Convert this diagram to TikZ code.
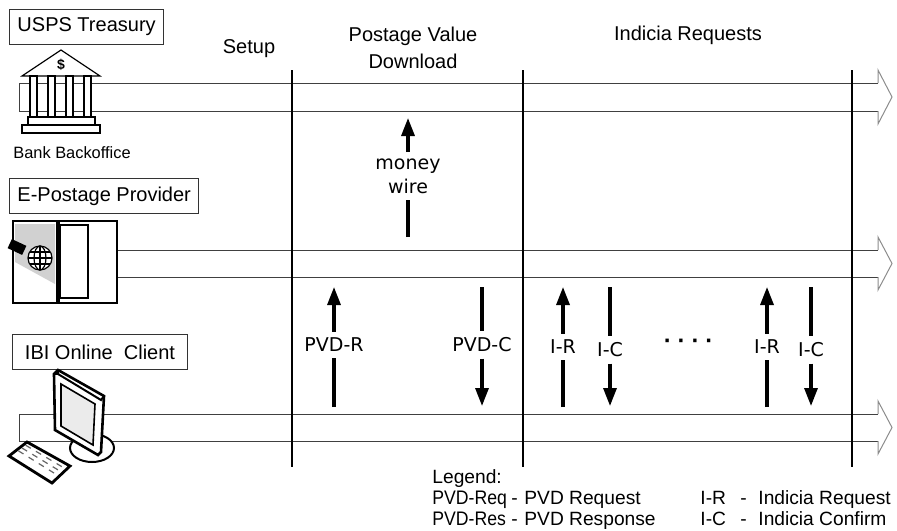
\documentclass[tikz,border=0pt]{standalone}
\usepackage{fontspec}
\setmainfont{Liberation Sans}
\newfontfamily\msgfont{DejaVu Sans}
\newfontfamily\narrowfont[FakeStretch=0.9]{Liberation Sans}
\usetikzlibrary{arrows.meta}

\begin{document}
\begin{tikzpicture}[x=0.5pt,y=-0.5pt,
  actor/.style={draw=black!80,line width=0.5pt,anchor=north west,
    minimum height=17.5pt,inner xsep=4pt,font=\fontsize{10}{12}\selectfont},
  phase/.style={font=\fontsize{10}{13.5}\selectfont,align=center},
  laneline/.style={draw=black!75,line width=0.5pt},
  lanehead/.style={draw=black!45,line width=0.5pt},
  sep/.style={line width=0.9pt},
  msg/.style={font=\msgfont\fontsize{9.5}{12}\selectfont,inner sep=3pt},
  flow/.style={line width=1.6pt},
  tip/.style={-{Triangle[length=9pt,width=6.5pt]}},
  icon/.style={line width=0.6pt},
  legend/.style={anchor=base west,inner sep=0pt,font=\fontsize{9.6}{12}\selectfont}]
  \useasboundingbox (0,0) rectangle (897,530);

  % Draw the three lanes as open arrows
  \foreach \ya/\yb in {83/111, 250/277, 414/441} {
    \draw[laneline] (19,\ya) -- (878,\ya);
    \draw[laneline] (19,\yb) -- (878,\yb);
    \draw[laneline] (19,\ya) -- (19,\yb);
    \draw[lanehead] (878,\ya) -- (878,\ya-13) -- ({892},{(\ya+\yb)/2})
      -- (878,\yb+13) -- (878,\yb);
  }

  % Phase separators
  \foreach \x in {292,523,852} {
    \draw[sep] (\x,70) -- (\x,467);
  }

  % Phase titles
  \node[phase] (setup) at (249,49) {Setup};
  \node[phase] (pvd) at (413,48) {Postage Value\\Download};
  \node[phase] (indicia) at (688,35) {Indicia Requests};

  % Actor boxes
  \node[actor] (usps) at (9,9) {USPS Treasury};
  \node[actor] (epp) at (9,178) {E-Postage Provider};
  \node[actor,minimum width=87.5pt] (ibi) at (12,334) {IBI Online\ \ Client};
  \node[font=\fontsize{8.2}{10}\selectfont] (bank) at (72,153) {Bank Backoffice};

  % Bank building
  \begin{scope}[icon]
    \filldraw[fill=white] (22,76) -- (61,50) -- (100,76) -- cycle;
    \node[font=\bfseries\fontsize{7}{8}\selectfont,inner sep=0pt] (dollar) at (61,65) {\$};
    \foreach \x in {30,48,66,84} {
      \filldraw[fill=white] (\x,76) rectangle ++(7,41);
    }
    \filldraw[fill=white] (28,117) rectangle (95,125);
    \filldraw[fill=white] (22,125) rectangle (100,133);
  \end{scope}

  % Provider cabinet with globe
  \begin{scope}[icon]
    \filldraw[fill=white] (13,221) rectangle (57,303);
    \filldraw[fill=white] (59,221) rectangle (117,303);
    \draw (60,225) rectangle (88,298);
    \fill[black!18] (15,224) -- (55,224) -- (55,284) -- (15,262) -- cycle;
    \filldraw[fill=white] (40,258) circle (12);
    \draw (40,258) ellipse [x radius=6, y radius=12];
    \draw (40,246) -- (40,270);
    \draw (28,258) -- (52,258);
    \draw (29.6,252) -- (50.4,252);
    \draw (29.6,264) -- (50.4,264);
    \fill[rotate around={-25:(17,247)}] (9,242) rectangle (25,252);
  \end{scope}

  % Client computer
  \begin{scope}[icon]
    \filldraw[fill=white,line width=1pt] (92,448) ellipse [x radius=22, y radius=14];
    \filldraw[fill=white,line width=1.3pt] (54,374) -- (58,370) -- (104,396)
      -- (101,452) -- (98,455) -- (55,430) -- cycle;
    \draw[line width=1pt] (58,370) -- (58,374) -- (101,400) -- (104,396);
    \draw[line width=1pt] (58,374) -- (54,374);
    \filldraw[fill=black!8,line width=0.8pt] (61,384) -- (95,404) -- (93,445)
      -- (61,426) -- cycle;
    \filldraw[fill=white,line width=1.4pt] (27,442) -- (70,466) -- (52,483)
      -- (9,456) -- cycle;
    \foreach \s in {0.3,0.5,0.7} {
      \draw[black!60,dashed,line width=0.6pt] ({13+18*\s},{455-14*\s})
        -- ({50+18*\s},{479-17*\s});
    }
  \end{scope}

  % Money transfer to the treasury
  \node[msg,align=center] (wire) at (408,176) {money\\wire};
  \coordinate (wire-lo) at (408,237);
  \coordinate (wire-hi) at (408,118);
  \draw[flow] (wire-lo) -- (wire.south);
  \draw[flow,tip] (wire.north) -- (wire-hi);

  % Requests from the client
  \foreach \x/\ly/\lab/\nm in {334/345/PVD-R/pvdr, 563/347/I-R/ira, 767/347/I-R/irb} {
    \node[msg] (\nm) at (\x,\ly) {\lab};
    \coordinate (\nm-lo) at (\x,407);
    \coordinate (\nm-hi) at (\x,287);
    \draw[flow] (\nm-lo) -- (\nm.south);
    \draw[flow,tip] (\nm.north) -- (\nm-hi);
  }

  % Responses to the client
  \foreach \x/\ly/\lab/\nm in {482/345/PVD-C/pvdc, 610/350/I-C/ica, 811/350/I-C/icb} {
    \node[msg] (\nm) at (\x,\ly) {\lab};
    \coordinate (\nm-hi) at (\x,287);
    \coordinate (\nm-lo) at (\x,406);
    \draw[flow] (\nm-hi) -- (\nm.north);
    \draw[flow,tip] (\nm.south) -- (\nm-lo);
  }
  \node[msg,font=\msgfont\bfseries\fontsize{9.5}{12}\selectfont] (dots) at (688,343) {· · · ·};

  % Legend
  \node[legend] (leg) at (432,483) {Legend:};
  \node[legend,font=\narrowfont\fontsize{9.8}{12}\selectfont] (legreq) at (432,504) {PVD-Req};
  \node[legend] (legreqd) at (511,504) {-};
  \node[legend] (legreqt) at (524,504) {PVD Request};
  \node[legend] (legir) at (700,504) {I-R};
  \node[legend] (legird) at (740,504) {-};
  \node[legend] (legirt) at (758,504) {Indicia Request};
  \node[legend,font=\narrowfont\fontsize{9.8}{12}\selectfont] (legres) at (432,525) {PVD-Res};
  \node[legend] (legresd) at (511,525) {-};
  \node[legend] (legrest) at (524,525) {PVD Response};
  \node[legend] (legic) at (700,525) {I-C};
  \node[legend] (legicd) at (740,525) {-};
  \node[legend] (legict) at (758,525) {Indicia Confirm};

\end{tikzpicture}
\end{document}
